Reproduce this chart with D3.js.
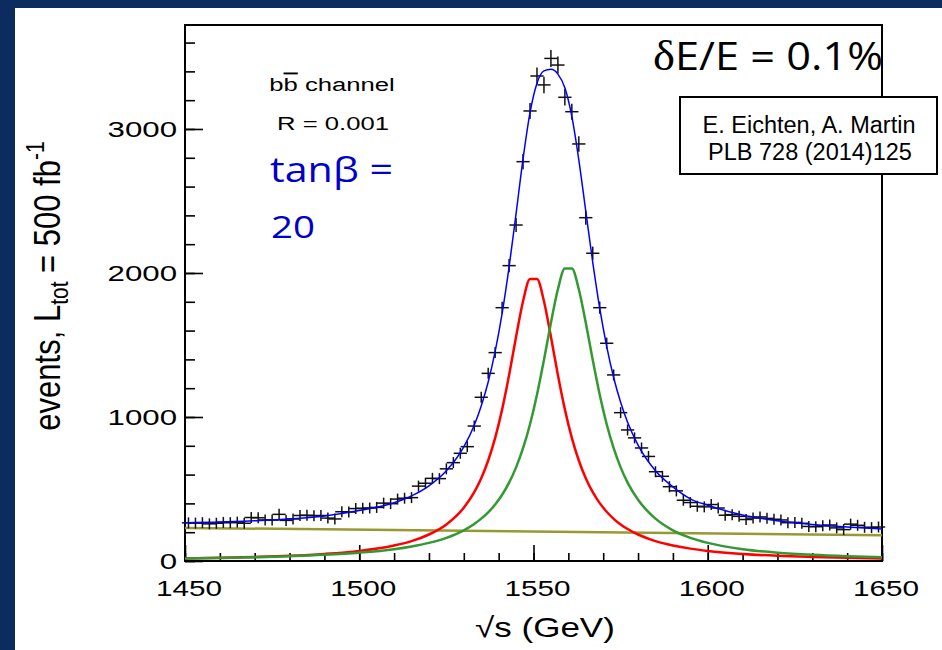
<!DOCTYPE html>
<html>
<head>
<meta charset="utf-8">
<script src="https://cdn.jsdelivr.net/npm/d3@7"></script>
<style>
  body { margin: 0; background: #fff; }
  svg { display: block; }
</style>
</head>
<body>
<svg id="chart"></svg>
<script>
// tick values
var xTicksMajor = [1450, 1500, 1550, 1600, 1650];
var yTicksMajor = [0, 1000, 2000, 3000];

// measured events in 2 GeV bins, 1451 .. 1649
var eventCounts = [
  265, 263, 266, 258, 262, 268, 266, 270, 262, 302,
  300, 285, 284, 324, 282, 292, 316, 318, 314, 316,
  298, 292, 342, 340, 364, 366, 368, 372, 402, 398,
  430, 436, 440, 520, 540, 574, 572, 640, 683, 748,
  794, 937, 1137, 1303, 1447, 1759, 2051, 2333, 2773, 3125,
  3368, 3306, 3490, 3444, 3220, 3120, 2896, 2384, 2137, 1759,
  1512, 1292, 1030, 910, 855, 785, 726, 620, 588, 516,
  487, 422, 406, 380, 376, 392, 368, 318, 322, 310,
  288, 298, 306, 296, 290, 285, 266, 268, 262, 240,
  238, 244, 250, 230, 218, 256, 248, 234, 232, 236
];

// fit curves
var fitX = [1450, 1460, 1470, 1480, 1490, 1500, 1510, 1515, 1520, 1525,
            1530, 1533, 1535, 1537, 1539, 1541, 1543, 1545, 1547, 1549,
            1551, 1553, 1555, 1557, 1559, 1561, 1563, 1565, 1567, 1569,
            1571, 1573, 1575, 1577, 1580, 1585, 1590, 1595, 1600, 1610,
            1620, 1630, 1640, 1650];
var totalFit = [266, 270, 279, 291, 312, 350, 404, 452, 522, 626,
                792, 943, 1077, 1243, 1455, 1719, 2042, 2412, 2792, 3113,
                3318, 3403, 3414, 3381, 3286, 3087, 2786, 2429, 2074, 1756,
                1491, 1274, 1102, 963, 805, 627, 515, 432, 387, 319,
                280, 254, 236, 222];
var redPeak = [18, 22, 28, 36, 49, 70, 108, 138, 184, 254,
               370, 478, 575, 698, 855, 1053, 1292, 1557, 1804, 1959,
               1959, 1804, 1557, 1292, 1053, 855, 698, 575, 478, 402,
               342, 293, 254, 222, 184, 138, 108, 86, 70, 49,
               36, 28, 22, 18];
var greenPeak = [18, 21, 26, 33, 43, 58, 82, 101, 126, 161,
                 213, 257, 294, 338, 393, 460, 544, 650, 783, 950,
                 1155, 1396, 1654, 1887, 2031, 2031, 1887, 1654, 1396, 1155,
                 950, 783, 650, 544, 425, 294, 213, 161, 126, 82,
                 58, 43, 33, 26];
var bgX = [1450, 1650];
var bgY = [230, 178];

var width = 942, height = 650;
var margin = {top: 25, right: 60, bottom: 89, left: 185};
var plotW = width - margin.left - margin.right;
var plotH = height - margin.top - margin.bottom;
var sx = 1.35; // the original plot is stretched sideways

var svg = d3.select("svg#chart")
    .attr("width", width)
    .attr("height", height)
    .style("font-family", "'Liberation Sans', Arial, sans-serif");

// slide border
svg.append("rect").attr("x", 0).attr("y", 0).attr("width", 15).attr("height", height).attr("fill", "#0c2b5e");
svg.append("rect").attr("x", 0).attr("y", 0).attr("width", width).attr("height", 8).attr("fill", "#0c2b5e");

var g = svg.append("g")
    .attr("transform", "translate(" + margin.left + "," + margin.top + ")");

var xScale = d3.scaleLinear().domain([1450, 1650]).range([0, plotW]);
var yScale = d3.scaleLinear().domain([0, 3722]).range([plotH, 0]);

// minor ticks
g.append("g")
    .attr("transform", "translate(0," + plotH + ")")
    .call(d3.axisBottom(xScale).tickValues(d3.range(1450, 1651, 10)).tickSize(-8).tickSizeOuter(0).tickFormat(""))
    .call(function(a) { a.select(".domain").remove(); });
g.append("g")
    .call(d3.axisLeft(yScale).tickValues(d3.range(0, 3701, 200)).tickSize(-10).tickSizeOuter(0).tickFormat(""))
    .call(function(a) { a.select(".domain").remove(); });

// major ticks + labels
var xAxis = g.append("g")
    .attr("transform", "translate(0," + plotH + ")")
    .call(d3.axisBottom(xScale).tickValues(xTicksMajor).tickSize(-16).tickSizeOuter(0).tickFormat(d3.format("d")));
xAxis.select(".domain").remove();
xAxis.selectAll("text")
    .attr("y", 35).attr("dy", 0).attr("x", 2.6)
    .attr("transform", "scale(" + sx + ",1)")
    .style("font-size", "22px").style("font-family", "'Liberation Sans', Arial, sans-serif").attr("fill", "#000");

var ysx = 1.42;
var yAxis = g.append("g")
    .call(d3.axisLeft(yScale).tickValues(yTicksMajor).tickSize(-18).tickSizeOuter(0).tickFormat(d3.format("d")));
yAxis.select(".domain").remove();
yAxis.selectAll("text")
    .attr("x", -8 / ysx).attr("dy", "0.35em")
    .attr("transform", "scale(" + ysx + ",1)")
    .style("font-size", "22px").style("font-family", "'Liberation Sans', Arial, sans-serif").attr("fill", "#000");
g.selectAll(".tick line").attr("stroke", "#000").attr("stroke-width", 1.6);

// frame
g.append("rect")
    .attr("x", 0).attr("y", 0).attr("width", plotW).attr("height", plotH)
    .attr("fill", "none").attr("stroke", "#000").attr("stroke-width", 2);

// curves
var line = d3.line()
    .x(function(d) { return xScale(d[0]); })
    .y(function(d) { return yScale(d[1]); })
    .curve(d3.curveMonotoneX);

function pairs(xs, ys) { return xs.map(function(x, i) { return [x, ys[i]]; }); }

g.append("path").datum(pairs(bgX, bgY)).attr("d", line)
    .attr("fill", "none").attr("stroke", "#999933").attr("stroke-width", 2.5);
g.append("path").datum(pairs(fitX, redPeak)).attr("d", line)
    .attr("fill", "none").attr("stroke", "#ff0000").attr("stroke-width", 2.5);
g.append("path").datum(pairs(fitX, greenPeak)).attr("d", line)
    .attr("fill", "none").attr("stroke", "#339933").attr("stroke-width", 2.5);

// data points
var bins = d3.range(1451, 1650, 2).map(function(c, i) { return {x: c, y: eventCounts[i]}; });
var pts = g.append("g").attr("stroke", "#111").attr("stroke-width", 1.5);
pts.selectAll("line.h").data(bins).enter().append("line")
    .attr("x1", function(d) { return xScale(d.x - 1.9); })
    .attr("x2", function(d) { return xScale(d.x + 1.9); })
    .attr("y1", function(d) { return yScale(d.y); })
    .attr("y2", function(d) { return yScale(d.y); });
pts.selectAll("line.v").data(bins).enter().append("line")
    .attr("x1", function(d) { return xScale(d.x); })
    .attr("x2", function(d) { return xScale(d.x); })
    .attr("y1", function(d) { return Math.min(yScale(d.y + Math.sqrt(d.y)), yScale(d.y) - 5.5); })
    .attr("y2", function(d) { return Math.max(yScale(d.y - Math.sqrt(d.y)), yScale(d.y) + 5.5); });

g.append("path").datum(pairs(fitX, totalFit)).attr("d", line)
    .attr("fill", "none").attr("stroke", "#0000ff").attr("stroke-width", 1.5);

// axis titles
svg.append("text")
    .attr("transform", "translate(545,637) scale(1.25,1)")
    .attr("text-anchor", "middle")
    .style("font-size", "28px")
    .text("\u221As (GeV)");

var yt = svg.append("text")
    .attr("transform", "translate(60,286) scale(1.2,1) rotate(-90)")
    .attr("text-anchor", "middle")
    .style("font-size", "31px");
yt.append("tspan").text("events, L");
yt.append("tspan").attr("dy", 7).style("font-size", "21px").text("tot");
yt.append("tspan").attr("dy", -7).text(" = 500 fb");
yt.append("tspan").attr("dy", -13).style("font-size", "21px").text("-1");

// labels inside the plot
var ch = svg.append("text")
    .attr("transform", "translate(332,91) scale(" + sx + ",1)")
    .attr("text-anchor", "middle")
    .style("font-size", "19px");
ch.append("tspan").text("b");
ch.append("tspan").style("text-decoration", "overline").text("b");
ch.append("tspan").text(" channel");

svg.append("text")
    .attr("transform", "translate(333,130) scale(" + sx + ",1)")
    .attr("text-anchor", "middle")
    .style("font-size", "19px")
    .text("R = 0.001");

// slide overlays
var blue = "#0000cc";
svg.append("text")
    .attr("x", 270).attr("y", 182)
    .attr("textLength", 123).attr("lengthAdjust", "spacingAndGlyphs")
    .style("font-family", "'Open Sans', sans-serif").style("font-size", "34px")
    .attr("fill", blue)
    .text("tan\u03B2 =");
svg.append("text")
    .attr("x", 271).attr("y", 238)
    .attr("textLength", 44).attr("lengthAdjust", "spacingAndGlyphs")
    .style("font-family", "'Open Sans', sans-serif").style("font-size", "31px")
    .attr("fill", blue)
    .text("20");

var de = svg.append("text")
    .attr("x", 653).attr("y", 70)
    .attr("textLength", 230).attr("lengthAdjust", "spacingAndGlyphs")
    .style("font-family", "'Open Sans', sans-serif").style("font-size", "39px")
    .attr("fill", "#000");
de.append("tspan").style("font-family", "'Liberation Serif', serif").style("font-size", "42px").text("\u03B4");
de.append("tspan").text("E/E = 0.1%");

svg.append("rect")
    .attr("x", 680).attr("y", 97).attr("width", 257).attr("height", 77)
    .attr("fill", "#fff").attr("stroke", "#000").attr("stroke-width", 2);
svg.append("text")
    .attr("x", 809).attr("y", 133).attr("text-anchor", "middle")
    .style("font-size", "23.5px")
    .text("E. Eichten, A. Martin");
svg.append("text")
    .attr("x", 810).attr("y", 160).attr("text-anchor", "middle")
    .style("font-size", "23.5px")
    .text("PLB 728 (2014)125");
</script>
</body>
</html>
